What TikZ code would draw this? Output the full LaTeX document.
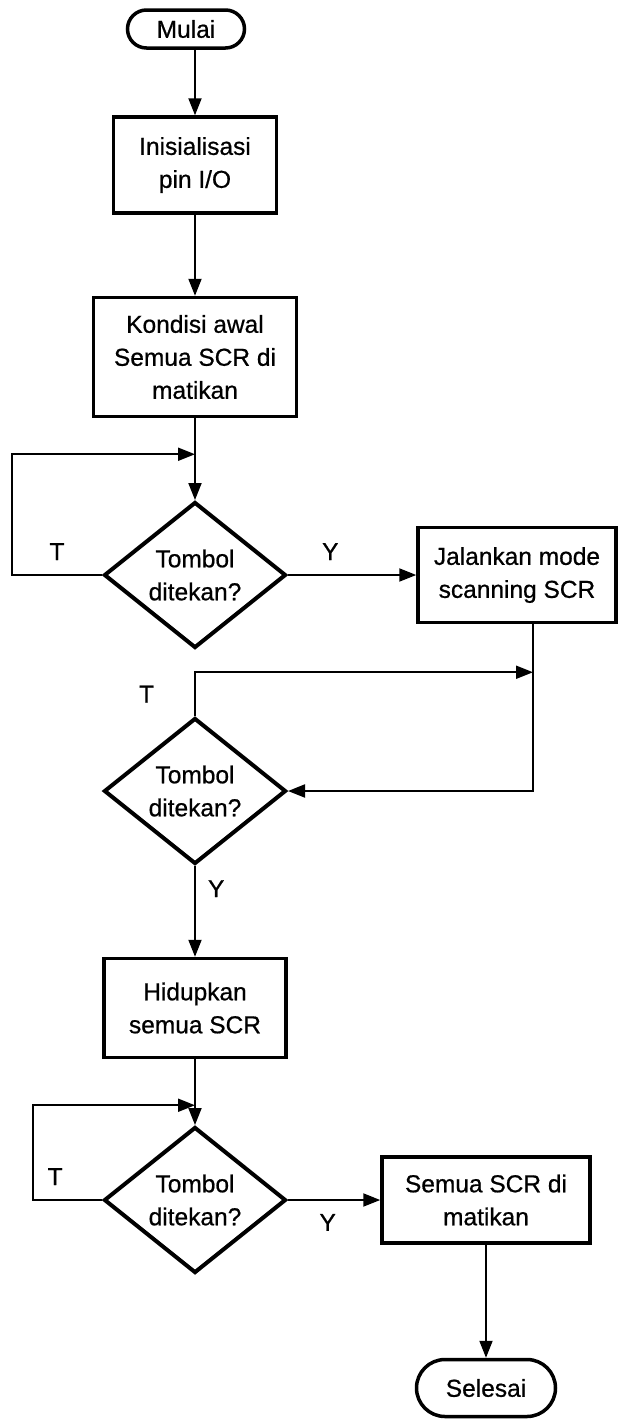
\documentclass[tikz,border=0pt]{standalone}
\usepackage{fontspec}
\setmainfont{Liberation Sans}
\newfontfamily\tebal{Liberation Sans}[FakeBold=0.7]
\usetikzlibrary{positioning,shapes.geometric,shapes.misc,arrows.meta}

\begin{document}
\begin{tikzpicture}[x=1pt,y=1pt,on grid,auto,
    >={Triangle[length=17pt,width=13pt]},
    every node/.style={font=\tebal\fontsize{24.5}{33}\selectfont},
    terminal/.style={rounded rectangle,draw,line width=3.5pt,inner sep=0pt},
    process/.style={rectangle,draw,line width=3.5pt,align=center,inner sep=0pt},
    decision/.style={diamond,draw,line width=4pt,align=center,inner sep=0pt,
        minimum width=182pt,minimum height=146pt},
    tanda/.style={inner sep=0pt},
    flow/.style={line width=2pt}]
    \useasboundingbox (0,0) rectangle (618,-1422);

    \node[terminal,minimum width=117pt,minimum height=38pt] (mulai) at (186,-29) {Mulai};
    \node[process,minimum width=163pt,minimum height=96pt] (init) at (195,-165) {Inisialisasi\\pin I/O};
    \node[process,minimum width=203pt,minimum height=119pt] (kondisi) [below=192pt of init] {Kondisi awal\\Semua SCR di\\matikan};
    \node[decision] (tombolA) [below=218pt of kondisi] {Tombol\\ditekan?};
    \node[process,minimum width=198pt,minimum height=95pt] (scan) [right=322pt of tombolA] {Jalankan mode\\scanning SCR};
    \node[decision] (tombolB) [below=216pt of tombolA] {Tombol\\ditekan?};
    \node[process,minimum width=182pt,minimum height=99pt] (hidup) [below=217pt of tombolB] {Hidupkan\\semua SCR};
    \node[decision] (tombolC) [below=192pt of hidup] {Tombol\\ditekan?};
    \node[process,minimum width=208pt,minimum height=86pt] (mati) [right=291pt of tombolC] {Semua SCR di\\matikan};
    \node[terminal,minimum width=139pt,minimum height=57pt] (selesai) [below=188pt of mati] {Selesai};

    % titik pertemuan loop
    \coordinate[below=36pt of kondisi.south] (gabungA);
    \coordinate (gabungB) at ([xshift=16pt,yshift=-48pt]scan.south);
    \coordinate[below=46pt of hidup.south] (gabungC);

    \draw[->,flow] (mulai.south -| init.north) -- (init);
    \path[->,flow]
        (init) edge (kondisi)
        (kondisi) edge (tombolA)
        (tombolA) edge node[tanda,pos=0.33,above=14pt] {Y} (scan)
        (tombolB) edge node[tanda,pos=0.25,right=12pt] {Y} (hidup)
        (hidup) edge (tombolC)
        (tombolC) edge node[tanda,pos=0.43,below=13pt] {Y} (mati)
        (mati) edge (selesai);
    \draw[->,flow] (tombolA.west) -- node[tanda,above=14pt] {T} ++(-90pt,0) |- (gabungA);
    \draw[->,flow] ([xshift=16pt]scan.south) |- (tombolB.east);
    \draw[->,flow] (tombolB.north) |- node[tanda,pos=0.25,left=40pt] {T} (gabungB);
    \draw[->,flow] (tombolC.west) -- node[tanda,pos=0.68,above=14pt] {T} ++(-69pt,0) |- (gabungC);
\end{tikzpicture}
\end{document}
